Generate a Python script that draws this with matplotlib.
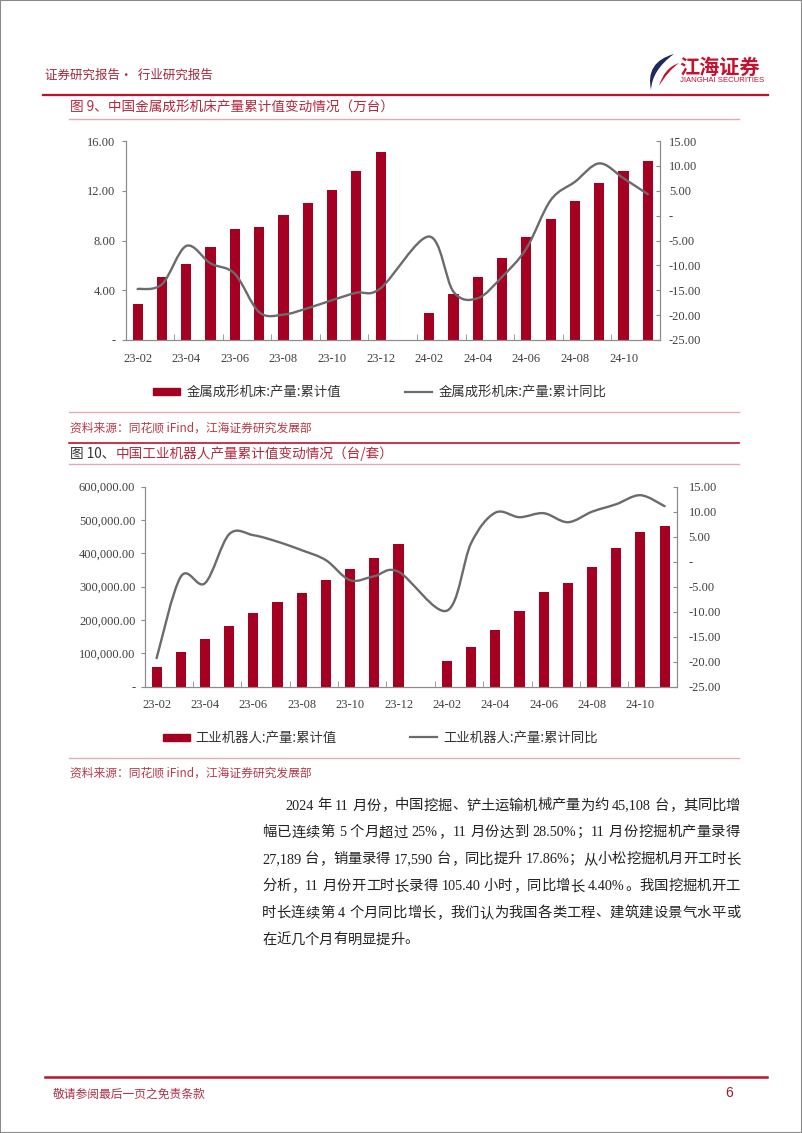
import re

import matplotlib
matplotlib.use("Agg")
import matplotlib.pyplot as plt
import numpy as np
from matplotlib.lines import Line2D
from matplotlib.patches import PathPatch, Rectangle
from matplotlib.path import Path
from matplotlib.ticker import FuncFormatter

W, H = 802, 1133
CJK = ["Noto Sans CJK SC", "DejaVu Sans"]
plt.rcParams["font.family"] = ["Liberation Serif", "Noto Sans CJK SC", "DejaVu Sans"]

BAR = "#a50021"
LINE = "#6b6b6b"
SPINE = "#8c8c8c"
TICK = "#404040"
RULE = "#c0102c"
PINK = "#e3aab3"
TITLE = "#b5283e"
SRC = "#b83a4b"
INK = "#222222"

# months on the x axis; 24-01 has no release (Jan-Feb reported together)
MONTHS = ["23-02", "23-03", "23-04", "23-05", "23-06", "23-07", "23-08", "23-09",
          "23-10", "23-11", "23-12", "24-01", "24-02", "24-03", "24-04", "24-05",
          "24-06", "24-07", "24-08", "24-09", "24-10", "24-11"]

# fig 9: metal forming machine tools, cumulative output (10k units) and cum. YoY (%)
PRESS_CUM = [2.9, 5.04, 6.08, 7.47, 8.9, 9.06, 10.05, 10.99, 12.06, 13.56, 15.09, None,
             2.2, 3.67, 5.06, 6.59, 8.28, 9.7, 11.2, 12.6, 13.56, 14.36]
PRESS_YOY = [-14.75, -13.8, -6.1, -9.6, -11.7, -19.4, -19.9, -18.6, -17.0, -15.5, -14.6, None,
             -4.2, -15.3, -16.6, -12.3, -6.6, 3.1, 6.8, 10.5, 7.5, 4.3]

# fig 10: industrial robots, cumulative output (sets) and cum. YoY (%)
ROBOT_CUM = [60000, 103000, 142000, 182000, 222000, 255000, 280000, 320000, 353000, 386000,
             429000, None, 76000, 120000, 170000, 227000, 283000, 310000, 360000, 415000,
             465000, 483000]
ROBOT_YOY = [-19.3, -3.0, -4.3, 5.5, 5.3, 4.0, 2.3, 0.3, -3.7, -2.9, -2.0, None,
             -9.8, 3.7, 9.8, 8.9, 9.7, 7.9, 10.0, 11.5, 13.3, 11.1]

BODY = [
    "2024 年 11 月份，中国挖掘、铲土运输机械产量为约 45,108 台，其同比增",
    "幅已连续第 5 个月超过 25%，11 月份达到 28.50%；11 月份挖掘机产量录得",
    "27,189 台，销量录得 17,590 台，同比提升 17.86%；从小松挖掘机月开工时长",
    "分析，11 月份开工时长录得 105.40 小时，同比增长 4.40%。我国挖掘机开工",
    "时长连续第 4 个月同比增长，我们认为我国各类工程、建筑建设景气水平或",
    "在近几个月有明显提升。",
]

fig = plt.figure(figsize=(W / 100, H / 100), dpi=100)


def fx(x):
    return x / W


def fy(y):
    return 1 - y / H


def txt(x, y, s, **kw):
    kw.setdefault("va", "center")
    return fig.text(fx(x), fy(y), s, **kw)


def hline(x0, x1, y, color, lw):
    fig.add_artist(Line2D([fx(x0), fx(x1)], [fy(y), fy(y)], color=color, lw=lw,
                          transform=fig.transFigure))


def smooth(pts):
    # Catmull-Rom through the data points, drawn as cubic Bezier segments
    p = np.asarray(pts, float)
    verts, codes = [p[0]], [Path.MOVETO]
    for i in range(len(p) - 1):
        p0 = p[i - 1] if i > 0 else p[i]
        p3 = p[i + 2] if i + 2 < len(p) else p[i + 1]
        verts += [p[i] + (p[i + 1] - p0) / 6, p[i + 1] - (p3 - p[i]) / 6, p[i + 1]]
        codes += [Path.CURVE4] * 3
    return Path(verts, codes)


def chart(box, cum, yoy, ymax, ystep, lfmt, lpad, rpad):
    x0, top, x1, bot = box
    ax = fig.add_axes([fx(x0), fy(bot), (x1 - x0) / W, (bot - top) / H])
    x = np.arange(len(MONTHS))
    keep = [i for i, v in enumerate(cum) if v is not None]
    ax.bar(x[keep], [cum[i] for i in keep], width=0.42, color=BAR, zorder=2)
    ax.set_xlim(-0.5, len(MONTHS) - 0.5)
    ax.set_ylim(0, ymax)
    ax.set_yticks(np.arange(0, ymax + ystep / 2, ystep))
    ax.yaxis.set_major_formatter(FuncFormatter(lfmt))
    ax.set_xticks(x[::2], MONTHS[::2])
    ax.set_xticks(np.arange(1.5, len(MONTHS) - 1, 2), minor=True)
    ax.tick_params(axis="x", which="major", length=0, pad=9)
    ax.tick_params(axis="x", which="minor", direction="in", length=4, color=SPINE)
    ax.tick_params(axis="y", direction="out", length=3, pad=lpad, color=SPINE)

    ax2 = ax.twinx()
    ax2.set_ylim(-25, 15)
    ax2.set_yticks(np.arange(-25, 16, 5))
    ax2.yaxis.set_major_formatter(FuncFormatter(lambda v, _: "-" if v == 0 else f"{v:.2f}"))
    ax2.tick_params(axis="y", direction="in", length=3, pad=rpad, color=SPINE)
    ax2.add_patch(PathPatch(smooth([(x[i], yoy[i]) for i in keep]), fill=False,
                            ec=LINE, lw=1.7, capstyle="round"))
    for a in (ax, ax2):
        a.set_facecolor("none")
        a.spines["top"].set_visible(False)
        for s in a.spines.values():
            s.set_color(SPINE)
            s.set_linewidth(0.8)
        a.tick_params(labelsize=9, labelcolor=TICK)


def legend(y, rect_x, text_x, line_x, line_tx, bar_label, line_label):
    fig.add_artist(Rectangle((fx(rect_x), fy(y + 3.3)), 27 / W, 6.6 / H, color=BAR,
                             transform=fig.transFigure))
    txt(text_x, y, bar_label, fontsize=9.6, family=CJK, color="#333333")
    hline(line_x, line_x + 27, y, LINE, 1.6)
    txt(line_tx, y, line_label, fontsize=9.6, family=CJK, color="#333333")


def paragraph(lines, left, right, first, y0, dy, fs):
    r = fig.canvas.get_renderer()
    em = fs * 100 / 72
    for k, s in enumerate(lines):
        y = y0 + k * dy
        items, gap = [], 0.0
        for t in re.findall(r"\s+|[0-9A-Za-z.,%]+|\S", s):
            if t.isspace():
                gap = 0.25 * em
                continue
            items.append([txt(0, y, t, fontsize=fs, color=INK), gap])
            gap = 0.0
        widths = [a.get_window_extent(r).width for a, _ in items]
        x = first if k == 0 else left
        extra = 0.0
        if k < len(lines) - 1:
            extra = (right - x - sum(widths) - sum(g for _, g in items[1:])) / (len(items) - 1)
        for i, ((a, g), w) in enumerate(zip(items, widths)):
            if i:
                x += g + extra
            a.set_x(fx(x))
            x += w


# page frame, header and logo
fig.add_artist(Rectangle((0, 0), 1, 1, fill=False, ec="#8a8a8a", lw=1.5,
                         transform=fig.transFigure))
txt(45, 75, "证券研究报告·  行业研究报告", fontsize=9, family=CJK, color="#a3283b")
hline(43, 768, 94.5, RULE, 1.6)


def logo_patch(pts, codes, color):
    fig.add_artist(PathPatch(Path([(fx(a), fy(b)) for a, b in pts], codes), fc=color,
                             ec="none", transform=fig.transFigure))


C3 = Path.CURVE3
logo_patch([(674, 54), (645, 62), (651, 90), (652, 70), (674, 54), (674, 54)],
           [Path.MOVETO, C3, C3, C3, C3, Path.CLOSEPOLY], "#1f2a5c")
logo_patch([(659, 86), (664, 68), (679, 63), (668, 71), (659, 86), (659, 86)],
           [Path.MOVETO, C3, C3, C3, C3, Path.CLOSEPOLY], "#c8102e")
txt(679, 67, "江海证券", fontsize=14.5, family=CJK, weight="bold", color="#c8102e")
txt(680, 81, "JIANGHAI SECURITIES", fontsize=5.6, family=["Liberation Sans"], color="#c8102e")

# figure 9
txt(70, 107.5, "图 9、中国金属成形机床产量累计值变动情况（万台）", fontsize=9.8,
    family=CJK, color=TITLE)
hline(69, 739, 118.5, PINK, 1.0)
chart((125.5, 141, 660, 340), PRESS_CUM, PRESS_YOY, 16, 4,
      lambda v, _: "-" if v == 0 else f"{v:.2f}", 4.3, 6.5)
legend(391.7, 153, 187, 405, 439, "金属成形机床:产量:累计值", "金属成形机床:产量:累计同比")
hline(69, 739, 412.3, PINK, 1.0)
txt(70.5, 427.7, "资料来源：同花顺 iFind，江海证券研究发展部", fontsize=8.5, family=CJK, color=SRC)

# figure 10
hline(69, 739, 442.7, RULE, 1.2)
txt(70, 454, "图 10、", fontsize=9.8, family=CJK, color="#333333")
txt(116, 454, "中国工业机器人产量累计值变动情况（台/套）", fontsize=9.8, family=CJK, color=TITLE)
hline(69, 739, 463.5, PINK, 1.0)
chart((144.5, 486.7, 676.7, 686.7), ROBOT_CUM, ROBOT_YOY, 600000, 100000,
      lambda v, _: "-" if v == 0 else f"{v:,.2f}", 3.6, 8.6)
legend(737.3, 162.7, 195, 410, 443, "工业机器人:产量:累计值", "工业机器人:产量:累计同比")
hline(69, 739, 757.7, PINK, 1.0)
txt(70.5, 773.3, "资料来源：同花顺 iFind，江海证券研究发展部", fontsize=8.5, family=CJK, color=SRC)

# body text
paragraph(BODY, 262, 740, 285, 806, 26.8, 10.3)

# footer
hline(45, 767, 1077, RULE, 1.8)
txt(53, 1094, "敬请参阅最后一页之免责条款", fontsize=8.5, family=CJK, color="#b0304a")
txt(729, 1093, "6", fontsize=10, family=["Liberation Sans"], color="#9b1b30", ha="center")

fig.savefig("out.png", dpi=100)
